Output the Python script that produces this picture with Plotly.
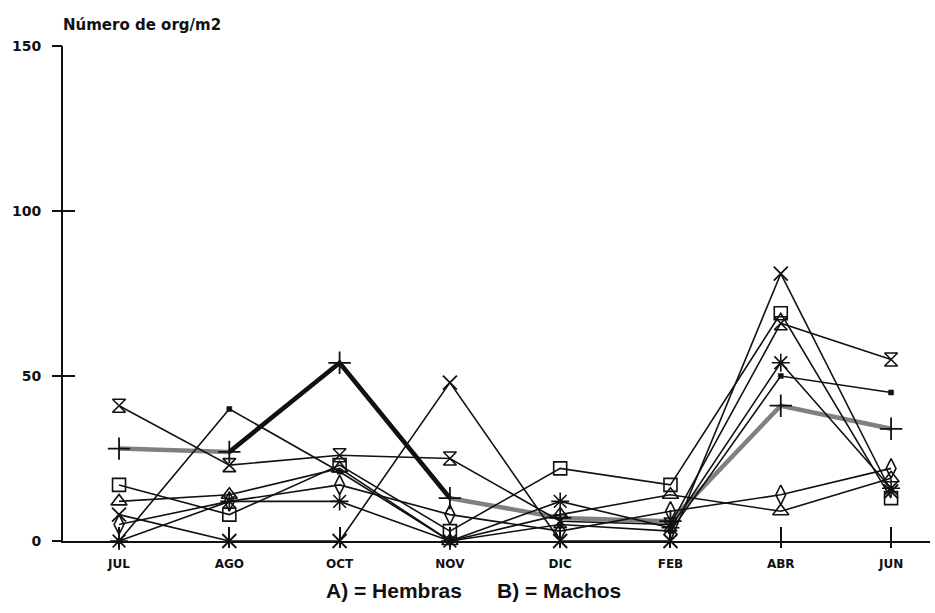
import plotly.graph_objects as go

# Sampling months
months = ["JUL", "AGO", "OCT", "NOV", "DIC", "FEB", "ABR", "JUN"]
xs = list(range(len(months)))

# Organisms per m2 for each series
hourglass = [41, 23, 26, 25, 6, 5, 66, 55]
small_sq = [0, 40, 21, 0, 5, 3, 50, 45]
plus_s = [28, 27, 54, 13, 7, 6, 41, 34]
square_s = [17, 8, 23, 3, 22, 17, 69, 13]
triangle_s = [12, 14, 22, 0, 8, 14, 9, 19]
diamond_s = [5, 12, 17, 8, 3, 9, 14, 22]
x_s = [8, 0, 0, 48, 0, 0, 81, 15]
aster_s = [0, 12, 12, 0, 12, 4, 54, 16]

# Stretch of the plus series drawn as a heavy black line
heavy_idx = [1, 2, 3]
plus_heavy = [v if i in heavy_idx else None for i, v in enumerate(plus_s)]

y_ticks = [0, 50, 100, 150]

BLACK = "#111111"
fig = go.Figure()


def series(y, symbol, size, lw=1.6, color=BLACK, mlw=1.6, mcolor=None):
    fig.add_trace(go.Scatter(
        x=xs, y=y, mode="lines+markers", cliponaxis=False,
        line=dict(color=color, width=lw),
        marker=dict(symbol=symbol, size=size, color=mcolor or BLACK,
                    line=dict(color=BLACK, width=mlw)),
        hoverinfo="skip"))


# plus series: thick grey line with a black heavy stretch
series(plus_s, "cross-thin-open", 16, lw=4.5, color="#808080", mlw=1.8)
fig.add_trace(go.Scatter(x=xs, y=plus_heavy, mode="lines", cliponaxis=False,
                         line=dict(color=BLACK, width=4.5), hoverinfo="skip"))

series(hourglass, "hourglass-open", 13)
series(small_sq, "square", 5, mcolor=BLACK, mlw=0.5)
series(square_s, "square-open", 13)
series(triangle_s, "triangle-up-open", 14)
series(diamond_s, "diamond-tall-open", 14)
series(x_s, "x-thin-open", 14, mlw=1.8)
series(aster_s, "asterisk-open", 15, mlw=1.6)

# invisible trace so the overlay axes render
fig.add_trace(go.Scatter(x=xs, y=hourglass, mode="none", xaxis="x2", yaxis="y2",
                         hoverinfo="skip"))

xr = [-0.508, 7.353]
yr = [0, 150]
BOLD = "DejaVu Sans"

fig.update_layout(
    width=935, height=613,
    margin=dict(l=63, r=5, t=46, b=72),
    paper_bgcolor="white", plot_bgcolor="white",
    showlegend=False,
    xaxis=dict(range=xr, tickvals=xs, ticktext=months, showticklabels=False,
               ticks="inside", ticklen=14, tickwidth=2, tickcolor=BLACK,
               showline=True, linewidth=2, linecolor=BLACK,
               showgrid=False, zeroline=False),
    yaxis=dict(range=yr, tickvals=y_ticks, showticklabels=False,
               ticks="inside", ticklen=12, tickwidth=2, tickcolor=BLACK,
               showline=True, linewidth=2, linecolor=BLACK,
               showgrid=False, zeroline=False),
    xaxis2=dict(range=xr, overlaying="x", anchor="y", side="bottom",
                tickvals=xs, ticktext=["<b>%s</b>" % m for m in months],
                ticks="outside", ticklen=6, tickwidth=2, tickcolor=BLACK,
                tickfont=dict(family=BOLD, size=12, color=BLACK),
                ticklabelstandoff=6,
                showline=False, showgrid=False, zeroline=False),
    yaxis2=dict(range=yr, overlaying="y", anchor="x", side="left",
                tickvals=y_ticks, ticktext=["<b>%d</b>" % v for v in y_ticks],
                ticks="outside", ticklen=10, tickwidth=2, tickcolor=BLACK,
                tickfont=dict(family=BOLD, size=14, color=BLACK),
                ticklabelstandoff=8,
                showline=False, showgrid=False, zeroline=False),
)

fig.add_annotation(text="<b>Número de org/m2</b>", xref="paper", yref="paper",
                   x=-0.002, y=1.042, xanchor="left", yanchor="middle",
                   showarrow=False,
                   font=dict(family=BOLD, size=15, color=BLACK))
fig.add_annotation(text="<b>A) = Hembras      B) = Machos</b>", xref="paper", yref="paper",
                   x=0.474, y=-0.099, xanchor="center", yanchor="middle",
                   showarrow=False,
                   font=dict(family="Liberation Sans", size=21, color=BLACK))

fig.write_html("out.html")
